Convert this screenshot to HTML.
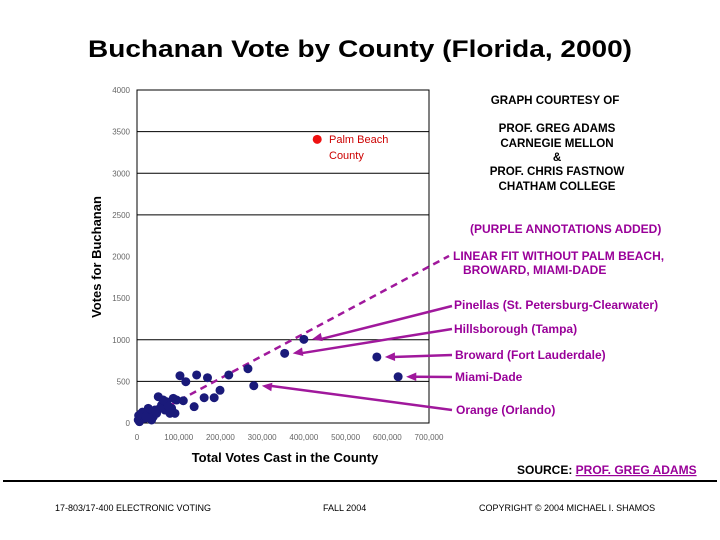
<!DOCTYPE html>
<html><head><meta charset="utf-8">
<style>
body{margin:0;background:#fff;}
#wrap{position:relative;width:720px;height:540px;overflow:hidden;font-family:"Liberation Sans",sans-serif;}
svg{position:absolute;left:0;top:0;}
</style></head>
<body>
<div id="wrap">
<svg id="chart" width="720" height="540">
<text x="88" y="57" font-size="24" font-weight="bold" fill="#000" textLength="544" lengthAdjust="spacingAndGlyphs">Buchanan Vote by County (Florida, 2000)</text>
<g id="grid"></g>
<rect x="137" y="90" width="292" height="333" fill="none" stroke="#000" stroke-width="1"/>
<g id="yticks"></g>
<g id="xticks"></g>
<text transform="translate(101,257) rotate(-90)" text-anchor="middle" font-size="13" font-weight="bold">Votes for Buchanan</text>
<text x="285" y="462" text-anchor="middle" font-size="13" font-weight="bold">Total Votes Cast in the County</text>
<g id="fit"></g>
<g id="pts"></g>
<g id="pb"></g>
<text x="329" y="143" font-size="11" fill="#cc0000">Palm Beach</text>
<text x="329" y="159" font-size="11" fill="#cc0000">County</text>
<g font-size="11.6" font-weight="bold" text-anchor="middle">
<text x="555" y="104">GRAPH COURTESY OF</text>
<text x="557" y="132">PROF. GREG ADAMS</text>
<text x="557" y="147">CARNEGIE MELLON</text>
<text x="557" y="161">&amp;</text>
<text x="557" y="175">PROF. CHRIS FASTNOW</text>
<text x="557" y="190">CHATHAM COLLEGE</text>
</g>
<g font-size="12" font-weight="bold" fill="#990099">
<text x="470" y="233">(PURPLE ANNOTATIONS ADDED)</text>
<text x="453" y="260">LINEAR FIT WITHOUT PALM BEACH,</text>
<text x="463" y="274">BROWARD, MIAMI-DADE</text>
<text x="454" y="309">Pinellas (St. Petersburg-Clearwater)</text>
<text x="454" y="333">Hillsborough (Tampa)</text>
<text x="455" y="359">Broward (Fort Lauderdale)</text>
<text x="455" y="381">Miami-Dade</text>
<text x="456" y="414">Orange (Orlando)</text>
</g>
<g id="arrows"></g>
<text x="517" y="474" font-size="12" font-weight="bold">SOURCE: <tspan fill="#990099" text-decoration="underline">PROF. GREG ADAMS</tspan></text>
<line x1="3" y1="481" x2="717" y2="481" stroke="#000" stroke-width="2"/>
<g font-size="9" fill="#000">
<text x="55" y="511">17-803/17-400 ELECTRONIC VOTING</text>
<text x="323" y="511">FALL 2004</text>
<text x="479" y="511">COPYRIGHT © 2004 MICHAEL I. SHAMOS</text>
</g>
</svg>
</div>
<script>
const xTicks=[0,100000,200000,300000,400000,500000,600000,700000];
const xTickLabels=["0","100,000","200,000","300,000","400,000","500,000","600,000","700,000"];
const yTicks=[0,500,1000,1500,2000,2500,3000,3500,4000];
const yTickLabels=["0","500","1000","1500","2000","2500","3000","3500","4000"];
const gridValues=[500,1000,2500,3000,3500];
const xVotes=[400000,354000,575000,626000,280000,266000,220000,199000,185000,161000,169000,143000,137000,117000,103000,111000,95000,87000,51000,59000,67000,79000,91000,71000,55000,39000,31000,23000,27000,15000,11000,6000,7000,19000,35000,47000,63000,83000,43000,3000,75000,4000,9000,13000,21000,29000];
const yBuchanan=[1005,837,793,556,448,652,577,393,304,304,544,577,196,496,568,268,276,296,316,216,156,116,116,256,176,76,116,136,176,96,56,16,56,56,36,116,276,176,156,36,200,90,110,130,80,60];
const palmX=[432000];
const palmY=[3407];
const fitSlope=0.002683;
const fitEndX=748000;
const ns="http://www.w3.org/2000/svg";
const X=v=>137+v/700000*292, Y=v=>423-v/4000*333;
function mk(tag,attrs,parent){const e=document.createElementNS(ns,tag);for(const k in attrs)e.setAttribute(k,attrs[k]);document.getElementById(parent).appendChild(e);return e;}
gridValues.forEach(v=>{const l=mk('line',{x1:137,x2:429,y1:Y(v),y2:Y(v),stroke:'#000','stroke-width':1},'grid');

});
yTicks.forEach((v,i)=>{const t=mk('text',{x:130,y:Y(v)+3,'text-anchor':'end','font-size':8,fill:'#666'},'yticks');t.textContent=yTickLabels[i];

});
xTicks.forEach((v,i)=>{const t=mk('text',{x:X(v),y:440,'text-anchor':'middle','font-size':8,fill:'#666'},'xticks');t.textContent=xTickLabels[i];

});
const fl=mk('line',{x1:X(0),y1:Y(0),x2:X(fitEndX),y2:Y(fitSlope*fitEndX),stroke:'#a0189c','stroke-width':2.5,'stroke-dasharray':'7,5'},'fit');


xVotes.forEach((v,i)=>{const c=mk('circle',{cx:X(v),cy:Y(yBuchanan[i]),r:4.5,fill:'#1a1a7a'},'pts');

});
palmX.forEach((v,i)=>{const c=mk('circle',{cx:X(v),cy:Y(palmY[i]),r:4.5,fill:'#ee1111'},'pb');

});
const arrowFrom=[[452,306],[452,329],[452,355],[452,377],[452,410]];
const arrowPts=[0,1,2,3,4];
arrowPts.forEach((pi,i)=>{
 const [x1,y1]=arrowFrom[i];
 const tx=X(xVotes[pi])+8, ty=Y(yBuchanan[pi]);
 const l=mk('line',{x1:x1,y1:y1,x2:tx+8,y2:ty,stroke:'#a0189c','stroke-width':2.5},'arrows');
 
 
 const ang=Math.atan2(y1-ty,x1-tx);
 const p=[[tx,ty],[tx+11*Math.cos(ang-0.4),ty+11*Math.sin(ang-0.4)],[tx+11*Math.cos(ang+0.4),ty+11*Math.sin(ang+0.4)]];
 const h=mk('polygon',{points:p.map(q=>q.join(',')).join(' '),fill:'#a0189c'},'arrows');
 
 
});
</script>
</body></html>
